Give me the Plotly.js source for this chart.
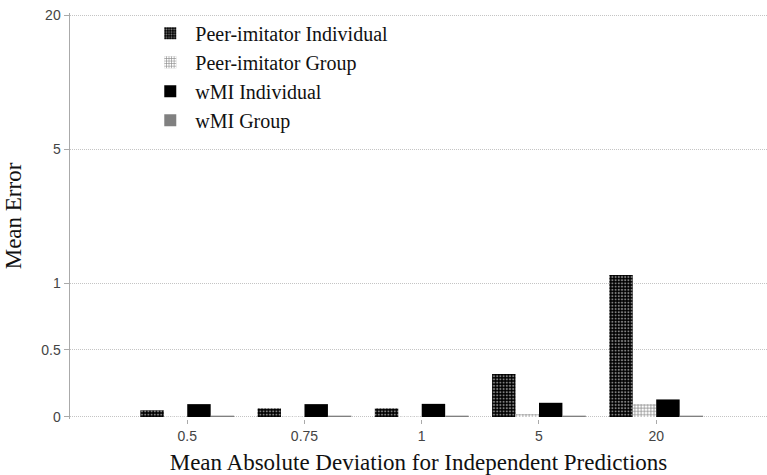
<!DOCTYPE html>
<html>
<head>
<meta charset="utf-8">
<script src="https://cdn.plot.ly/plotly-3.0.1.min.js"></script>
<style>html,body{margin:0;padding:0;background:#fff;}#chart{width:767px;height:475px;}</style>
</head>
<body>
<div id="chart"></div>
<script>
// Categories (x axis)
const categories = ['0.5', '0.75', '1', '5', '20'];
// Series values (Mean Error)
const peerIndividual = [0.05, 0.064, 0.064, 0.32, 1.24];
const peerGroup = [0.003, 0.004, 0.004, 0.022, 0.096];
const wmiIndividual = [0.096, 0.096, 0.098, 0.106, 0.131];
const wmiGroup = [0.01, 0.01, 0.01, 0.01, 0.01];
// Y tick labels (non-linear axis, equally spaced segments as in the original)
const yTickValues = [0, 0.5, 1, 5, 20];
const yTickPositions = [0, 1, 2, 4, 6];

// Piecewise-linear value scale matching the original axis
function scaleY(v) {
  for (let i = 1; i < yTickValues.length; i++) {
    if (v <= yTickValues[i]) {
      const a = yTickValues[i - 1], b = yTickValues[i];
      const pa = yTickPositions[i - 1], pb = yTickPositions[i];
      return pa + (v - a) / (b - a) * (pb - pa);
    }
  }
  return yTickPositions[yTickPositions.length - 1];
}

function mk(name, vals, marker) {
  return {
    type: 'bar', name: name, x: categories, y: vals.map(scaleY),
    customdata: vals, hovertemplate: name + ': %{customdata}<extra></extra>',
    marker: marker
  };
}

const traces = [
  mk('Peer-imitator Individual', peerIndividual, {
    color: '#000', line: {width: 0},
    pattern: {shape: '.', bgcolor: '#000', fgcolor: '#fff', size: 3.2, solidity: 0.35, fillmode: 'overlay'}
  }),
  mk('Peer-imitator Group', peerGroup, {
    color: '#fff', line: {width: 0},
    pattern: {shape: '+', bgcolor: '#fff', fgcolor: '#888', size: 3.2, solidity: 0.4}
  }),
  mk('wMI Individual', wmiIndividual, {color: '#000', line: {width: 0}}),
  mk('wMI Group', wmiGroup, {color: '#808080', line: {width: 0}})
];

const layout = {
  width: 767, height: 475,
  margin: {l: 70, r: 0, t: 13, b: 56},
  paper_bgcolor: '#fff', plot_bgcolor: '#fff',
  font: {family: 'Liberation Serif, serif', color: '#222'},
  barmode: 'group', bargap: 0.2, bargroupgap: 0,
  showlegend: true,
  legend: {
    x: 0.108, y: 0.998, xanchor: 'left', yanchor: 'top',
    bgcolor: 'rgba(0,0,0,0)', font: {family: 'Liberation Serif, serif', size: 20, color: '#111'},
    tracegroupgap: 0, itemwidth: 40
  },
  xaxis: {
    type: 'category', range: [-1, 4.945],
    showgrid: false, zeroline: false, showline: false,
    ticks: 'outside', ticklen: 4, tickcolor: '#aaa',
    tickfont: {family: 'Liberation Sans, Arial, sans-serif', size: 14, color: '#444'},
    title: {text: 'Mean Absolute Deviation for Independent Predictions',
            font: {family: 'Liberation Serif, serif', size: 23, color: '#111'}, standoff: 12}
  },
  yaxis: {
    range: [-0.03, 6.03], fixedrange: true,
    tickmode: 'array', tickvals: yTickPositions, ticktext: yTickValues.map(String),
    showgrid: true, gridcolor: '#c4c4c4', griddash: '1px,1px', gridwidth: 1,
    zeroline: false,
    showline: true, linecolor: '#aaa', linewidth: 1.5,
    ticks: 'outside', ticklen: 5, tickcolor: '#aaa',
    tickfont: {family: 'Liberation Sans, Arial, sans-serif', size: 14, color: '#444'},
    title: {text: 'Mean Error', font: {family: 'Liberation Serif, serif', size: 23, color: '#111'}, standoff: 13}
  }
};

Plotly.newPlot('chart', traces, layout, {displayModeBar: false, staticPlot: true});
</script>
</body>
</html>
